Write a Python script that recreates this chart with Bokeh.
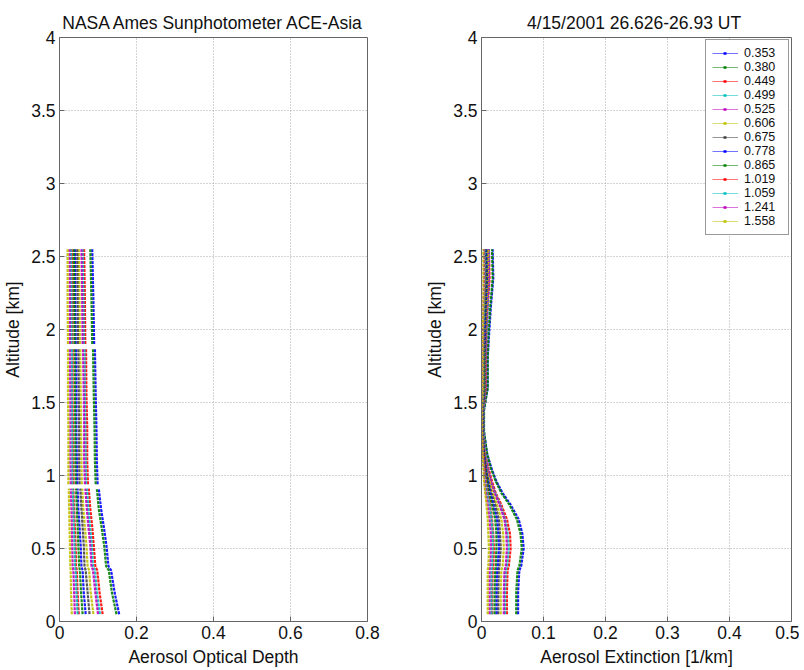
import math
from bokeh.plotting import figure
from bokeh.models import (Range1d, FixedTicker, CustomJSTickFormatter, Legend,
                          LegendItem)
from bokeh.layouts import row
from bokeh.embed import file_html
from bokeh.resources import INLINE

# ---------------- data ----------------
wavelengths = ["0.353", "0.380", "0.449", "0.499", "0.525", "0.606", "0.675",
               "0.778", "0.865", "1.019", "1.059", "1.241", "1.558"]
colors = ["#0000FF", "#008000", "#FF0000", "#00BFBF", "#BF00BF", "#BFBF00",
          "#404040", "#0000FF", "#008000", "#FF0000", "#00BFBF", "#BF00BF",
          "#BFBF00"]

# Aerosol optical depth profiles (left panel)
aod_alt = [0.05, 0.20, 0.35, 0.38, 0.52, 0.65, 0.77, 0.91, 0.94, 1.10, 1.32,
           1.55, 1.87, 1.90, 2.20, 2.55]
aod_gap_after = [0.91, 1.87]
aod_0353 = [0.155, 0.143, 0.134, 0.127, 0.122, 0.115, 0.108, 0.102, 0.099, 0.097, 0.096, 0.094, 0.092, 0.090, 0.088, 0.085]
aod_0380 = [0.148, 0.136, 0.128, 0.121, 0.116, 0.109, 0.102, 0.097, 0.094, 0.092, 0.091, 0.089, 0.087, 0.085, 0.083, 0.080]
aod_0449 = [0.112, 0.104, 0.098, 0.093, 0.089, 0.085, 0.080, 0.076, 0.074, 0.072, 0.072, 0.070, 0.069, 0.067, 0.066, 0.064]
aod_0499 = [0.105, 0.097, 0.092, 0.087, 0.084, 0.079, 0.075, 0.071, 0.069, 0.068, 0.067, 0.066, 0.065, 0.063, 0.062, 0.060]
aod_0525 = [0.100, 0.093, 0.087, 0.083, 0.080, 0.075, 0.071, 0.067, 0.066, 0.064, 0.064, 0.063, 0.061, 0.060, 0.059, 0.057]
aod_0606 = [0.088, 0.081, 0.077, 0.073, 0.070, 0.066, 0.062, 0.059, 0.058, 0.057, 0.056, 0.055, 0.054, 0.053, 0.052, 0.050]
aod_0675 = [0.078, 0.073, 0.068, 0.065, 0.063, 0.060, 0.057, 0.054, 0.052, 0.051, 0.051, 0.050, 0.049, 0.048, 0.047, 0.046]
aod_0778 = [0.068, 0.063, 0.060, 0.057, 0.055, 0.052, 0.049, 0.047, 0.046, 0.045, 0.044, 0.044, 0.043, 0.042, 0.041, 0.040]
aod_0865 = [0.060, 0.056, 0.053, 0.051, 0.049, 0.047, 0.045, 0.043, 0.042, 0.041, 0.041, 0.040, 0.039, 0.039, 0.038, 0.037]
aod_1019 = [0.050, 0.047, 0.045, 0.043, 0.042, 0.040, 0.038, 0.036, 0.036, 0.035, 0.035, 0.034, 0.034, 0.033, 0.033, 0.032]
aod_1059 = [0.047, 0.044, 0.042, 0.040, 0.039, 0.037, 0.036, 0.034, 0.033, 0.033, 0.033, 0.032, 0.032, 0.031, 0.031, 0.030]
aod_1241 = [0.040, 0.038, 0.036, 0.034, 0.033, 0.032, 0.031, 0.029, 0.029, 0.028, 0.028, 0.028, 0.027, 0.027, 0.027, 0.026]
aod_1558 = [0.032, 0.030, 0.029, 0.028, 0.027, 0.026, 0.025, 0.024, 0.023, 0.023, 0.023, 0.022, 0.022, 0.022, 0.021, 0.021]

# Aerosol extinction profiles (right panel), 1/km
ext_alt = [0.05, 0.20, 0.35, 0.38, 0.50, 0.60, 0.70, 0.80, 0.88, 0.96, 1.05,
           1.15, 1.30, 1.45, 1.60, 1.80, 1.95, 2.15, 2.35, 2.55]
ext_0353 = [0.059, 0.059, 0.061, 0.064, 0.068, 0.066, 0.060, 0.047, 0.034, 0.024, 0.016, 0.009, 0.004, 0.004, 0.010, 0.010, 0.012, 0.015, 0.019, 0.018]
ext_0380 = [0.056, 0.056, 0.058, 0.061, 0.065, 0.063, 0.057, 0.045, 0.032, 0.023, 0.015, 0.009, 0.004, 0.004, 0.010, 0.010, 0.011, 0.014, 0.018, 0.017]
ext_0449 = [0.041, 0.041, 0.042, 0.044, 0.047, 0.046, 0.041, 0.032, 0.023, 0.017, 0.011, 0.006, 0.003, 0.003, 0.007, 0.007, 0.008, 0.010, 0.013, 0.012]
ext_0499 = [0.038, 0.038, 0.039, 0.041, 0.044, 0.042, 0.038, 0.030, 0.022, 0.015, 0.010, 0.006, 0.003, 0.003, 0.006, 0.006, 0.008, 0.010, 0.012, 0.012]
ext_0525 = [0.036, 0.036, 0.037, 0.039, 0.041, 0.040, 0.037, 0.029, 0.021, 0.015, 0.010, 0.005, 0.002, 0.002, 0.006, 0.006, 0.007, 0.009, 0.012, 0.011]
ext_0606 = [0.031, 0.031, 0.032, 0.034, 0.036, 0.035, 0.032, 0.025, 0.018, 0.013, 0.008, 0.005, 0.002, 0.002, 0.005, 0.005, 0.006, 0.008, 0.010, 0.010]
ext_0675 = [0.027, 0.027, 0.028, 0.029, 0.031, 0.030, 0.028, 0.022, 0.016, 0.011, 0.007, 0.004, 0.002, 0.002, 0.005, 0.005, 0.006, 0.007, 0.009, 0.008]
ext_0778 = [0.024, 0.024, 0.025, 0.026, 0.028, 0.027, 0.025, 0.019, 0.014, 0.010, 0.007, 0.004, 0.002, 0.002, 0.004, 0.004, 0.005, 0.006, 0.008, 0.007]
ext_0865 = [0.021, 0.021, 0.022, 0.023, 0.024, 0.024, 0.022, 0.017, 0.012, 0.009, 0.006, 0.003, 0.001, 0.001, 0.004, 0.004, 0.004, 0.005, 0.007, 0.006]
ext_1019 = [0.017, 0.017, 0.018, 0.019, 0.020, 0.019, 0.017, 0.014, 0.010, 0.007, 0.005, 0.003, 0.001, 0.001, 0.003, 0.003, 0.003, 0.004, 0.006, 0.005]
ext_1059 = [0.016, 0.016, 0.016, 0.017, 0.018, 0.018, 0.016, 0.013, 0.009, 0.006, 0.004, 0.002, 0.001, 0.001, 0.003, 0.003, 0.003, 0.004, 0.005, 0.005]
ext_1241 = [0.013, 0.013, 0.013, 0.014, 0.015, 0.015, 0.013, 0.010, 0.007, 0.005, 0.004, 0.002, 0.001, 0.001, 0.002, 0.002, 0.003, 0.003, 0.004, 0.004]
ext_1558 = [0.010, 0.010, 0.010, 0.011, 0.012, 0.011, 0.010, 0.008, 0.006, 0.004, 0.003, 0.002, 0.001, 0.001, 0.002, 0.002, 0.002, 0.003, 0.003, 0.003]

aod_series = [aod_0353, aod_0380, aod_0449, aod_0499, aod_0525, aod_0606, aod_0675,
              aod_0778, aod_0865, aod_1019, aod_1059, aod_1241, aod_1558]
ext_series = [ext_0353, ext_0380, ext_0449, ext_0499, ext_0525, ext_0606, ext_0675,
              ext_0778, ext_0865, ext_1019, ext_1059, ext_1241, ext_1558]

y_ticks = [0, 0.5, 1, 1.5, 2, 2.5, 3, 3.5, 4]
aod_ticks = [0, 0.2, 0.4, 0.6, 0.8]
ext_ticks = [0, 0.1, 0.2, 0.3, 0.4, 0.5]

# ---------------- styling helpers ----------------
FONT = "Liberation Sans"
fmt = CustomJSTickFormatter(code="return String(tick);")


def style(p, xticks, xlabel, title):
    p.title.text = title
    p.title.align = "center"
    p.title.text_font = FONT
    p.title.text_font_size = "17.5px"
    p.title.text_font_style = "normal"
    p.title.text_color = "#111111"
    p.title.standoff = 9
    p.outline_line_color = "#666666"
    p.outline_line_alpha = 1
    p.background_fill_color = "white"
    p.border_fill_color = "white"
    for ax, ticks in ((p.xaxis[0], xticks), (p.yaxis[0], y_ticks)):
        ax.ticker = FixedTicker(ticks=ticks)
        ax.formatter = fmt
        ax.major_tick_in = 5
        ax.major_tick_out = 0
        ax.minor_tick_line_color = None
        ax.axis_line_color = "#666666"
        ax.major_tick_line_color = "#666666"
        ax.major_label_text_font = FONT
        ax.major_label_text_font_size = "17.5px"
        ax.major_label_text_color = "#111111"
        ax.axis_label_text_font = FONT
        ax.axis_label_text_font_size = "17.5px"
        ax.axis_label_text_font_style = "normal"
        ax.axis_label_text_color = "#111111"
        ax.major_label_standoff = 4
        ax.axis_label_standoff = 5
    p.xaxis.axis_label = xlabel
    p.yaxis.axis_label = "Altitude [km]"
    p.xgrid.ticker = FixedTicker(ticks=xticks)
    p.ygrid.ticker = FixedTicker(ticks=y_ticks)
    for g in (p.xgrid[0], p.ygrid[0]):
        g.grid_line_color = "#a8a8a8"
        g.grid_line_dash = "1 2"
        g.grid_line_width = 1


def with_gaps(alts, vals, gaps):
    xs, ys = [], []
    for a, v in zip(alts, vals):
        xs.append(v)
        ys.append(a)
        if a in gaps:
            xs.append(math.nan)
            ys.append(math.nan)
    return xs, ys


H = 669
p1 = figure(width=410, height=H, x_range=Range1d(0, 0.8), y_range=Range1d(0, 4),
            output_backend="svg", toolbar_location=None,
            min_border_left=58, min_border_right=43, min_border_top=37,
            min_border_bottom=47)
style(p1, aod_ticks, "Aerosol Optical Depth", "NASA Ames Sunphotometer ACE-Asia")
for vals, c in zip(aod_series, colors):
    xs, ys = with_gaps(aod_alt, vals, aod_gap_after)
    p1.line(xs, ys, line_color=c, line_width=2.2, line_dash="3 1", line_alpha=0.9)

p2 = figure(width=389, height=H, x_range=Range1d(0, 0.5), y_range=Range1d(0, 4),
            output_backend="svg", toolbar_location=None,
            min_border_left=71, min_border_right=8, min_border_top=37,
            min_border_bottom=47)
style(p2, ext_ticks, "Aerosol Extinction [1/km]", "4/15/2001 26.626-26.93  UT")
for vals, c in zip(ext_series, colors):
    p2.line(vals, ext_alt, line_color=c, line_width=2.2, line_dash="3 1", line_alpha=0.9)

items = []
for lab, c in zip(wavelengths, colors):
    rl = p2.line([math.nan], [math.nan], line_color=c, line_width=1, line_alpha=0.55)
    rd = p2.line([math.nan], [math.nan], line_color=c, line_width=2.5,
                 line_dash="3 30", line_dash_offset=22)
    items.append(LegendItem(label=lab, renderers=[rl, rd]))
legend = Legend(items=items, location="top_right", margin=2,
                label_text_font=FONT, label_text_font_size="12.5px",
                label_text_color="#111111", label_height=12, glyph_height=12,
                glyph_width=26, spacing=0, padding=6, label_standoff=6,
                label_width=38,
                border_line_color="#333333", border_line_width=1,
                background_fill_alpha=1)
p2.add_layout(legend)

layout = row(p1, p2)
open("out.html", "w").write(file_html(layout, INLINE))
